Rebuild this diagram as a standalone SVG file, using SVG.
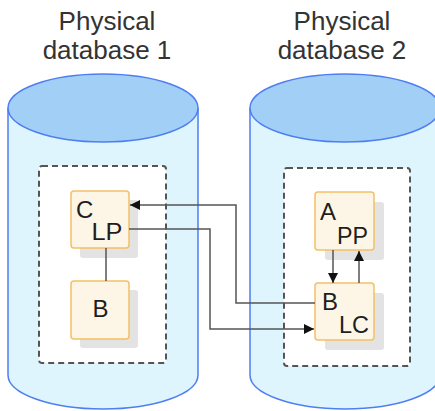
<svg xmlns="http://www.w3.org/2000/svg" width="435" height="411" viewBox="0 0 435 411">
<defs>
<style>
.cyl{fill:#def5fd;stroke:#4d7ef2;stroke-width:1.5}
.top{fill:#a2cff5;stroke:#4d7ef2;stroke-width:1.5}
.dash{fill:#ffffff;stroke:#555555;stroke-width:2;stroke-dasharray:6,4}
.box{fill:#fdf6e6;stroke:#f4c064;stroke-width:1.5}
.sh{fill:#e3e3e3}
.t{font-family:"Liberation Sans",Arial,sans-serif;fill:#1e1e1e}
.title{font-size:26px;text-anchor:middle;fill:#333333}
.big{font-size:24px}
.ln{fill:none;stroke:#555555;stroke-width:1.5}
</style>
<marker id="ah" viewBox="0 0 10 10" refX="10" refY="5" markerWidth="10" markerHeight="10" markerUnits="userSpaceOnUse" orient="auto">
<path d="M0,0 L10,5 L0,10 z" fill="#111111"/>
</marker>
</defs>
<g id="db1">
<path class="cyl" d="M8,108 V375 A95,34 0 0 0 198,375 V108"/>
<ellipse class="top" cx="103" cy="108" rx="95" ry="34"/>
<text class="t title" x="107" y="30">Physical</text>
<text class="t title" x="107" y="59">database 1</text>
<rect class="dash" x="39" y="166" width="127" height="197" rx="3"/>
</g>
<g id="db2">
<path class="cyl" d="M250,108 V375 A95,34 0 0 0 440,375 V108"/>
<ellipse class="top" cx="345" cy="108" rx="95" ry="34"/>
<text class="t title" x="342" y="30">Physical</text>
<text class="t title" x="342" y="59">database 2</text>
<rect class="dash" x="284" y="168" width="126" height="198" rx="3"/>
</g>
<g id="C">
<rect class="sh" x="80" y="200" width="58" height="58" rx="3"/>
<rect class="box" x="71" y="191" width="58" height="57" rx="3"/>
<text class="t big" x="76" y="218">C</text>
<text class="t big" x="91.5" y="240" textLength="31" lengthAdjust="spacingAndGlyphs">LP</text>
</g>
<g id="B1">
<rect class="sh" x="80" y="290" width="58" height="58" rx="3"/>
<rect class="box" x="71" y="281" width="58" height="58" rx="3"/>
<text class="t big" x="100.5" y="317" text-anchor="middle">B</text>
</g>
<g id="A">
<rect class="sh" x="325" y="202" width="59" height="58" rx="3"/>
<rect class="box" x="315" y="192" width="59" height="58" rx="3"/>
<text class="t big" x="320" y="219.5">A</text>
<text class="t big" x="337" y="243.5" textLength="31" lengthAdjust="spacingAndGlyphs">PP</text>
</g>
<g id="B2">
<rect class="sh" x="325" y="293" width="59" height="57" rx="3"/>
<rect class="box" x="315" y="283" width="59" height="57" rx="3"/>
<text class="t big" x="322" y="309.5">B</text>
<text class="t big" x="339" y="332.5" textLength="30" lengthAdjust="spacingAndGlyphs">LC</text>
</g>
<g id="connectors">
<line class="ln" x1="106" y1="248" x2="106" y2="281"/>
<path class="ln" d="M315,303 H236 V205 H130" marker-end="url(#ah)"/>
<path class="ln" d="M129,229 H210 V329 H314" marker-end="url(#ah)"/>
<line class="ln" x1="333" y1="250" x2="333" y2="283" marker-end="url(#ah)"/>
<line class="ln" x1="359" y1="283" x2="359" y2="251" marker-end="url(#ah)"/>
</g>
</svg>
